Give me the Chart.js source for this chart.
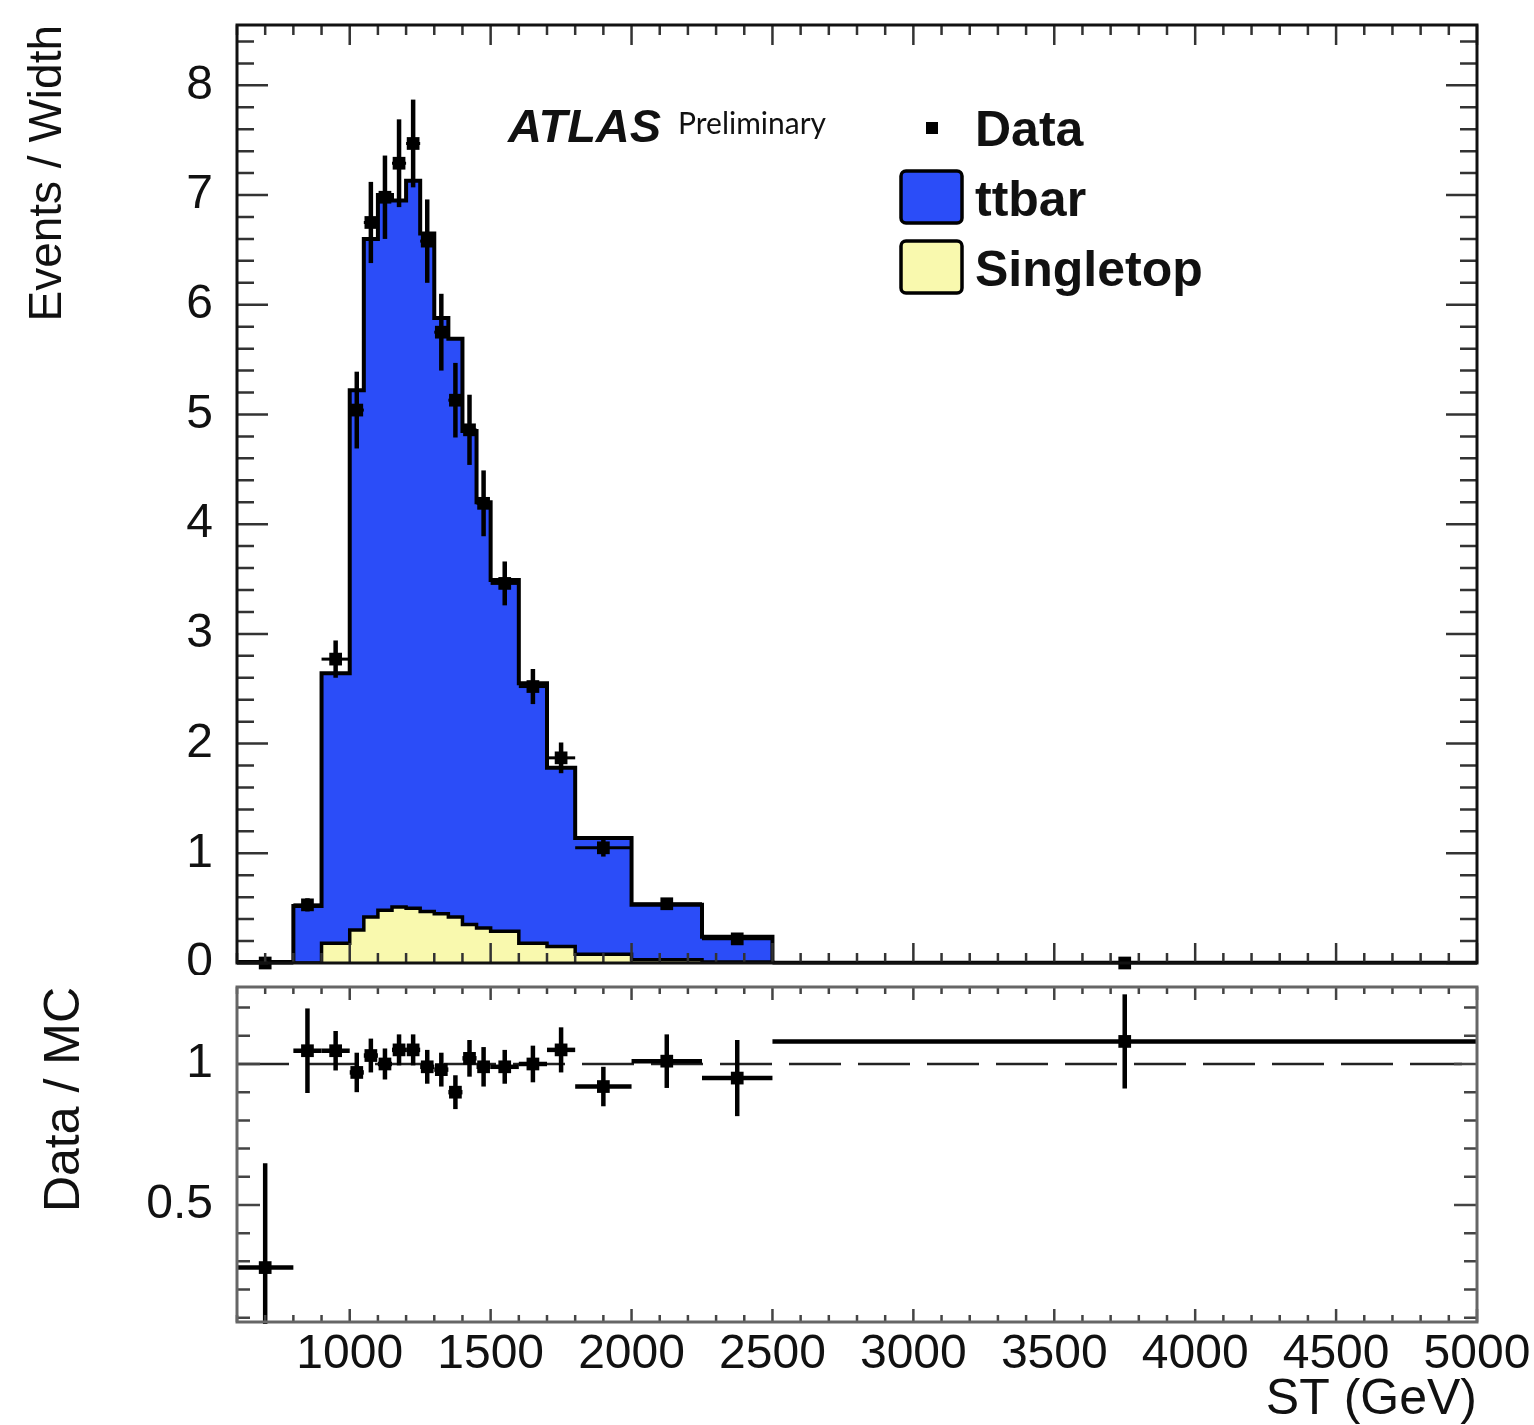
<!DOCTYPE html>
<html>
<head>
<meta charset="utf-8">
<title>ST distribution</title>
<script src="https://cdn.jsdelivr.net/npm/chart.js@4.4.1/dist/chart.umd.min.js"></script>
<style>
  html, body { margin: 0; padding: 0; background: #fff; overflow: hidden; }
  #wrap { position: relative; width: 1534px; height: 1425px; }
  canvas { position: absolute; left: 0; }
  #top { top: 0; }
  #ratio { top: 975px; }
</style>
</head>
<body>
<div id="wrap">
  <canvas id="top" width="1534" height="975"></canvas>
  <canvas id="ratio" width="1534" height="450"></canvas>
</div>
<script>
// bins in ST (GeV)
const binEdges = [600, 800, 900, 1000, 1050, 1100, 1150, 1200, 1250, 1300, 1350, 1400, 1450, 1500, 1600, 1700, 1800, 2000, 2250, 2500, 5000];

// stacked MC, events / width
const ttbar     = [0.01, 0.52, 2.46, 4.92, 6.18, 6.52, 6.44, 6.63, 6.18, 5.43, 5.27, 4.50, 3.88, 3.20, 2.37, 1.63, 1.06, 0.50, 0.23, 0.003];
const singletop = [0, 0, 0.18, 0.30, 0.42, 0.48, 0.51, 0.50, 0.47, 0.45, 0.42, 0.35, 0.32, 0.29, 0.18, 0.15, 0.08, 0.03, 0.01, 0];

// data
const dataVals = [0, 0.53, 2.77, 5.04, 6.75, 6.98, 7.29, 7.47, 6.58, 5.75, 5.13, 4.86, 4.19, 3.46, 2.52, 1.87, 1.05, 0.54, 0.22, 0];
const dataErr  = [0, 0.06, 0.17, 0.35, 0.37, 0.38, 0.40, 0.40, 0.38, 0.35, 0.34, 0.32, 0.30, 0.20, 0.16, 0.14, 0.08, 0.05, 0.03, 0];

// data / MC
const ratioVals = [0.278, 1.047, 1.047, 0.97, 1.03, 1.0, 1.05, 1.05, 0.99, 0.98, 0.90, 1.02, 0.99, 0.99, 1.0, 1.05, 0.92, 1.01, 0.95, 1.08];
const ratioErr  = [0.37, 0.15, 0.07, 0.07, 0.06, 0.055, 0.055, 0.055, 0.06, 0.06, 0.06, 0.065, 0.07, 0.06, 0.065, 0.08, 0.07, 0.095, 0.135, 0.167];

const xTickLabels = [1000, 1500, 2000, 2500, 3000, 3500, 4000, 4500, 5000];
const yTickLabels = [0, 1, 2, 3, 4, 5, 6, 7, 8];
const ratioTickLabels = [0.5, 1];

const FONT = '"Liberation Sans", Arial, Helvetica, sans-serif';
const BLUE = '#2b4df8';
const YELLOW = '#f9f9ae';
const INK = '#111';

const binCenters = binEdges.slice(0, -1).map((e, i) => (e + binEdges[i + 1]) / 2);
const total = ttbar.map((v, i) => v + singletop[i]);

function stepPoints(vals) {
    const pts = vals.map((v, i) => ({ x: binEdges[i], y: v }));
    pts.push({ x: binEdges[binEdges.length - 1], y: vals[vals.length - 1] });
    return pts;
}

function fixWidth(s) {
    s.width = 237;
    s.paddingTop = 0;
    s.paddingBottom = 0;
}

// error bars: vertical = errY, horizontal = bin width
const errorBars = {
    id: 'errorBars',
    afterDatasetsDraw(chart) {
        const { ctx, chartArea: a, scales: { x, y } } = chart;
        ctx.save();
        ctx.beginPath();
        ctx.rect(a.left, a.top, a.width, a.height + 2);
        ctx.clip();
        ctx.strokeStyle = '#000';
        chart.data.datasets.forEach((ds) => {
            if (!ds.errY) return;
            ds.data.forEach((p, i) => {
                const px = x.getPixelForValue(p.x);
                const py = y.getPixelForValue(p.y);
                ctx.lineWidth = 4.5;
                ctx.beginPath();
                ctx.moveTo(px, y.getPixelForValue(p.y - ds.errY[i]));
                ctx.lineTo(px, y.getPixelForValue(p.y + ds.errY[i]));
                ctx.stroke();
                ctx.lineWidth = ds.hBarWidth;
                ctx.beginPath();
                ctx.moveTo(x.getPixelForValue(binEdges[i]), py);
                ctx.lineTo(x.getPixelForValue(binEdges[i + 1]), py);
                ctx.stroke();
            });
        });
        ctx.restore();
    }
};

// ROOT style frame with inward ticks on all four sides
const rootFrame = {
    id: 'rootFrame',
    afterDraw(chart, args, o) {
        const { ctx, chartArea: a, scales: { x, y } } = chart;
        ctx.save();
        ctx.strokeStyle = o.tickColor;
        ctx.lineWidth = 2.5;
        ctx.beginPath();
        let k0 = Math.ceil(x.min / o.xStep - 1e-9), k1 = Math.floor(x.max / o.xStep + 1e-9);
        for (let k = k0; k <= k1; k++) {
            const px = x.getPixelForValue(k * o.xStep);
            const len = k % o.xEvery === 0 ? o.xMajor : o.xMinor;
            ctx.moveTo(px, a.bottom); ctx.lineTo(px, a.bottom - len);
            ctx.moveTo(px, a.top); ctx.lineTo(px, a.top + len);
        }
        k0 = Math.ceil(y.min / o.yStep - 1e-9); k1 = Math.floor(y.max / o.yStep + 1e-9);
        for (let k = k0; k <= k1; k++) {
            const py = y.getPixelForValue(k * o.yStep);
            const len = k % o.yEvery === 0 ? o.yMajor : o.yMinor;
            ctx.moveTo(a.left, py); ctx.lineTo(a.left + len, py);
            ctx.moveTo(a.right, py); ctx.lineTo(a.right - len, py);
        }
        ctx.stroke();
        ctx.lineWidth = o.frameWidth;
        ctx.strokeStyle = o.frameColor;
        ctx.strokeRect(a.left, a.top, a.width, a.height);
        ctx.restore();
    }
};

// ATLAS label and legend
const atlasLegend = {
    id: 'atlasLegend',
    afterDraw(chart, args, o) {
        const ctx = chart.ctx;
        const sets = chart.data.datasets;
        ctx.save();
        ctx.fillStyle = INK;
        ctx.textBaseline = 'alphabetic';
        ctx.font = 'italic bold 47px ' + FONT;
        ctx.fillText('ATLAS', 508, 142);
        ctx.font = '30px Lato, "Open Sans", sans-serif';
        ctx.fillText('Preliminary', 678, 134);

        ctx.font = 'bold 50px ' + FONT;
        o.entries.forEach((idx, row) => {
            const ds = sets[idx];
            const cy = 128 + row * 70;
            if (ds.legendType === 'marker') {
                ctx.fillStyle = '#000';
                ctx.fillRect(926, cy - 6, 12, 12);
            } else {
                ctx.beginPath();
                ctx.roundRect(901, cy - 27, 61, 52, 5);
                ctx.fillStyle = ds.backgroundColor;
                ctx.fill();
                ctx.lineWidth = 3.5;
                ctx.strokeStyle = '#000';
                ctx.stroke();
            }
            ctx.fillStyle = INK;
            ctx.fillText(ds.label, 975, cy + 18);
        });
        ctx.restore();
    }
};

new Chart(document.getElementById('top'), {
    type: 'line',
    data: {
        datasets: [
            {
                label: 'Data',
                data: binCenters.map((c, i) => ({ x: c, y: dataVals[i] })),
                showLine: false,
                pointStyle: 'rect',
                pointRadius: 9,
                pointBackgroundColor: '#000',
                pointBorderWidth: 0,
                clip: false,
                order: 0,
                errY: dataErr,
                hBarWidth: 3,
                legendType: 'marker'
            },
            {
                label: 'Singletop',
                data: stepPoints(singletop),
                stepped: true,
                fill: 'origin',
                backgroundColor: YELLOW,
                borderColor: '#000',
                borderWidth: 3.5,
                pointRadius: 0,
                order: 1,
                legendType: 'box'
            },
            {
                label: 'ttbar',
                data: stepPoints(total),
                stepped: true,
                fill: 'origin',
                backgroundColor: BLUE,
                borderColor: '#000',
                borderWidth: 4,
                pointRadius: 0,
                order: 2,
                legendType: 'box'
            }
        ]
    },
    options: {
        responsive: false,
        animation: false,
        layout: { padding: { left: 0, right: 57, top: 25, bottom: 12 } },
        plugins: {
            legend: { display: false },
            tooltip: { enabled: false },
            rootFrame: {
                tickColor: '#333', frameColor: '#111', frameWidth: 3,
                xStep: 100, xEvery: 5, xMajor: 20, xMinor: 10,
                yStep: 0.2, yEvery: 5, yMajor: 31, yMinor: 17
            },
            atlasLegend: { entries: [0, 2, 1] }
        },
        scales: {
            x: { type: 'linear', min: 600, max: 5000, display: false },
            y: {
                min: 0,
                max: 8.55,
                afterFit: fixWidth,
                afterBuildTicks: (s) => { s.ticks = yTickLabels.map((v) => ({ value: v })); },
                grid: { display: false, drawTicks: false },
                border: { display: false },
                ticks: {
                    font: { family: FONT, size: 48, lineHeight: 1 },
                    color: INK,
                    padding: 24,
                    callback: (v) => String(v)
                },
                title: {
                    display: true,
                    text: 'Events / Width',
                    align: 'end',
                    color: INK,
                    font: { family: FONT, size: 46, lineHeight: 1 },
                    padding: { top: 25, bottom: 0 }
                }
            }
        }
    },
    plugins: [errorBars, rootFrame, atlasLegend]
});

new Chart(document.getElementById('ratio'), {
    type: 'line',
    data: {
        datasets: [
            {
                label: 'Data / MC',
                data: binCenters.map((c, i) => ({ x: c, y: ratioVals[i] })),
                showLine: false,
                pointStyle: 'rect',
                pointRadius: 9,
                pointBackgroundColor: '#000',
                pointBorderWidth: 0,
                clip: false,
                order: 0,
                errY: ratioErr,
                hBarWidth: 4.5
            },
            {
                label: 'unity',
                data: [{ x: 600, y: 1 }, { x: 5000, y: 1 }],
                borderColor: '#222',
                borderWidth: 2.5,
                borderDash: [52, 17],
                pointRadius: 0,
                fill: false,
                order: 1
            }
        ]
    },
    options: {
        responsive: false,
        animation: false,
        layout: { padding: { left: 0, right: 57, top: 12, bottom: 0 } },
        plugins: {
            legend: { display: false },
            tooltip: { enabled: false },
            rootFrame: {
                tickColor: '#444', frameColor: '#666', frameWidth: 3,
                xStep: 100, xEvery: 5, xMajor: 13, xMinor: 7,
                yStep: 0.1, yEvery: 5, yMajor: 23, yMinor: 13
            }
        },
        scales: {
            x: {
                type: 'linear',
                min: 600,
                max: 5000,
                afterFit: (s) => { s.height = 103; s.paddingLeft = 0; s.paddingRight = 0; },
                afterBuildTicks: (s) => { s.ticks = xTickLabels.map((v) => ({ value: v })); },
                grid: { display: false, drawTicks: false },
                border: { display: false },
                ticks: {
                    font: { family: FONT, size: 48, lineHeight: 1 },
                    color: INK,
                    padding: 9,
                    maxRotation: 0,
                    autoSkip: false,
                    callback: (v) => String(v)
                },
                title: {
                    display: true,
                    text: 'ST (GeV)',
                    align: 'end',
                    color: INK,
                    font: { family: FONT, size: 50, lineHeight: 1 },
                    padding: { top: 0, bottom: 0 }
                }
            },
            y: {
                min: 0.085,
                max: 1.273,
                afterFit: fixWidth,
                afterBuildTicks: (s) => { s.ticks = ratioTickLabels.map((v) => ({ value: v })); },
                grid: { display: false, drawTicks: false },
                border: { display: false },
                ticks: {
                    font: { family: FONT, size: 48, lineHeight: 1 },
                    color: INK,
                    padding: 24,
                    callback: (v) => String(v)
                },
                title: {
                    display: true,
                    text: 'Data / MC',
                    align: 'end',
                    color: INK,
                    font: { family: FONT, size: 50, lineHeight: 1 },
                    padding: { top: 40, bottom: 0 }
                }
            }
        }
    },
    plugins: [errorBars, rootFrame]
});
</script>
</body>
</html>
